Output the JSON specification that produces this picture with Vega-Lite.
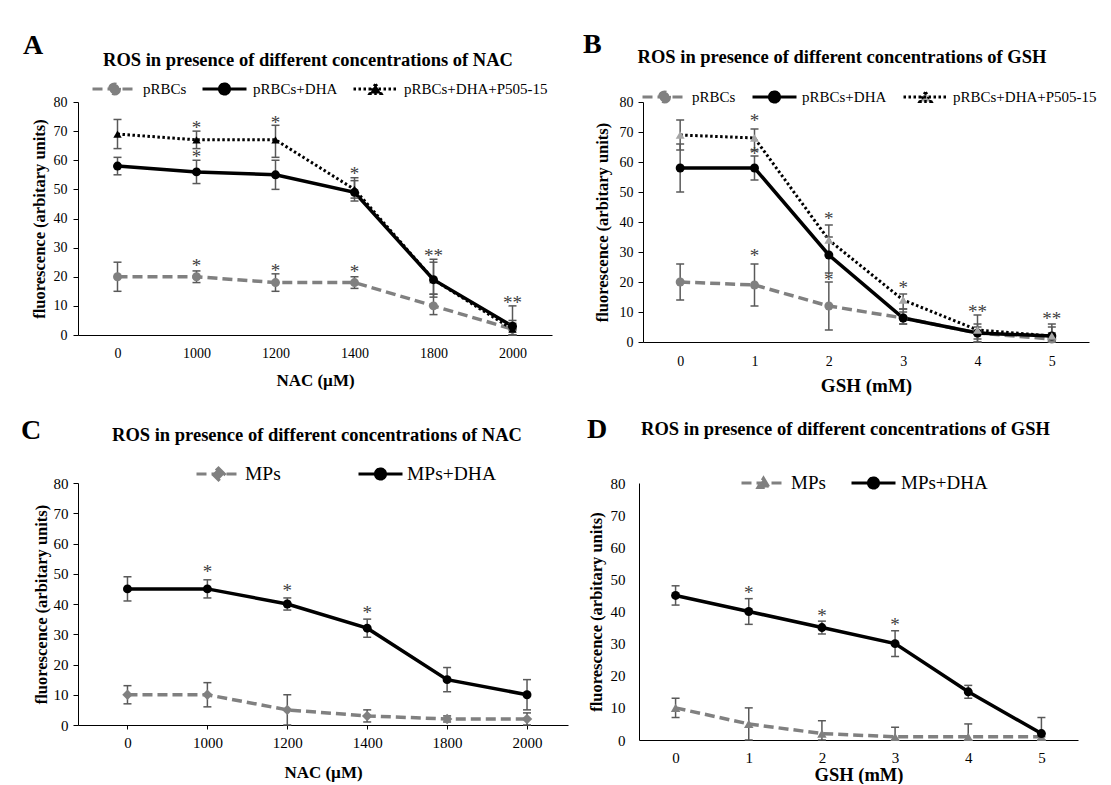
{
"$schema":"https://vega.github.io/schema/vega-lite/v6.json",
"background":"white",
"padding":{"left":21,"top":30,"right":25,"bottom":0},
"config":{
 "font":"Liberation Serif",
 "view":{"stroke":null},
 "title":{"font":"Liberation Serif","fontSize":18.5,"fontWeight":"bold","color":"black","anchor":"middle"},
 "axis":{"labelFont":"Liberation Serif","labelFontSize":14,"labelColor":"black","labelOverlap":false,"titleFont":"Liberation Serif","titleFontSize":16.5,"titleFontWeight":"bold","titleColor":"black","domainColor":"black","domainWidth":1,"tickColor":"black","grid":false},
 "axisX":{"ticks":false,"tickSize":0,"labelAngle":0},
 "legend":{"labelFont":"Liberation Serif","labelColor":"black","padding":0},
 "text":{"font":"Liberation Serif"}
},
"datasets":{
 "A":[
  {"x":0,"series":"pRBCs","v":20,"lo":15,"hi":25},{"x":1000,"series":"pRBCs","v":20,"lo":18,"hi":22},{"x":1200,"series":"pRBCs","v":18,"lo":15,"hi":21},{"x":1400,"series":"pRBCs","v":18,"lo":16,"hi":20},{"x":1800,"series":"pRBCs","v":10,"lo":7,"hi":14},{"x":2000,"series":"pRBCs","v":2,"lo":0,"hi":4},
  {"x":0,"series":"pRBCs+DHA+P505-15","v":69,"lo":64,"hi":74},{"x":1000,"series":"pRBCs+DHA+P505-15","v":67,"lo":64,"hi":70},{"x":1200,"series":"pRBCs+DHA+P505-15","v":67,"lo":61,"hi":72},{"x":1400,"series":"pRBCs+DHA+P505-15","v":50,"lo":47,"hi":54},{"x":1800,"series":"pRBCs+DHA+P505-15","v":19,"lo":14,"hi":26},{"x":2000,"series":"pRBCs+DHA+P505-15","v":2,"lo":0,"hi":5},
  {"x":0,"series":"pRBCs+DHA","v":58,"lo":55,"hi":61},{"x":1000,"series":"pRBCs+DHA","v":56,"lo":52,"hi":60},{"x":1200,"series":"pRBCs+DHA","v":55,"lo":50,"hi":60},{"x":1400,"series":"pRBCs+DHA","v":49,"lo":46,"hi":53},{"x":1800,"series":"pRBCs+DHA","v":19,"lo":13,"hi":25},{"x":2000,"series":"pRBCs+DHA","v":3,"lo":0,"hi":10}
 ],
 "sA":[
  {"x":1000,"ys":72.5,"t":"*"},{"x":1000,"ys":62.5,"t":"*"},{"x":1200,"ys":74,"t":"*"},{"x":1400,"ys":56.5,"t":"*"},{"x":1800,"ys":28.5,"t":"**"},{"x":2000,"ys":12.5,"t":"**"},{"x":1000,"ys":25,"t":"*"},{"x":1200,"ys":23.5,"t":"*"},{"x":1400,"ys":23,"t":"*"}
 ],
 "B":[
  {"x":0,"series":"pRBCs","v":20,"lo":14,"hi":26},{"x":1,"series":"pRBCs","v":19,"lo":12,"hi":26},{"x":2,"series":"pRBCs","v":12,"lo":4,"hi":20},{"x":3,"series":"pRBCs","v":8,"lo":6,"hi":10},{"x":4,"series":"pRBCs","v":3,"lo":1,"hi":5},{"x":5,"series":"pRBCs","v":1,"lo":0,"hi":3},
  {"x":0,"series":"pRBCs+DHA+P505-15","v":69,"lo":64,"hi":74},{"x":1,"series":"pRBCs+DHA+P505-15","v":68,"lo":64,"hi":71},{"x":2,"series":"pRBCs+DHA+P505-15","v":34,"lo":29,"hi":39},{"x":3,"series":"pRBCs+DHA+P505-15","v":14,"lo":11,"hi":16},{"x":4,"series":"pRBCs+DHA+P505-15","v":4,"lo":0,"hi":9},{"x":5,"series":"pRBCs+DHA+P505-15","v":2,"lo":0,"hi":6},
  {"x":0,"series":"pRBCs+DHA","v":58,"lo":50,"hi":66},{"x":1,"series":"pRBCs+DHA","v":58,"lo":54,"hi":62},{"x":2,"series":"pRBCs+DHA","v":29,"lo":23,"hi":35},{"x":3,"series":"pRBCs+DHA","v":8,"lo":6,"hi":11},{"x":4,"series":"pRBCs+DHA","v":3,"lo":0,"hi":6},{"x":5,"series":"pRBCs+DHA","v":2,"lo":0,"hi":5}
 ],
 "sB":[
  {"x":1,"ys":75,"t":"*"},{"x":1,"ys":64,"t":"*"},{"x":1,"ys":30,"t":"*"},{"x":2,"ys":42.5,"t":"*"},{"x":2,"ys":22,"t":"*"},{"x":3,"ys":19.5,"t":"*"},{"x":4,"ys":11.5,"t":"**"},{"x":5,"ys":9,"t":"**"}
 ],
 "C":[
  {"x":0,"series":"MPs","v":10,"lo":7,"hi":13},{"x":1000,"series":"MPs","v":10,"lo":6,"hi":14},{"x":1200,"series":"MPs","v":5,"lo":0,"hi":10},{"x":1400,"series":"MPs","v":3,"lo":1,"hi":5},{"x":1800,"series":"MPs","v":2,"lo":1,"hi":3},{"x":2000,"series":"MPs","v":2,"lo":0,"hi":4},
  {"x":0,"series":"MPs+DHA","v":45,"lo":41,"hi":49},{"x":1000,"series":"MPs+DHA","v":45,"lo":42,"hi":48},{"x":1200,"series":"MPs+DHA","v":40,"lo":38,"hi":42},{"x":1400,"series":"MPs+DHA","v":32,"lo":29,"hi":35},{"x":1800,"series":"MPs+DHA","v":15,"lo":11,"hi":19},{"x":2000,"series":"MPs+DHA","v":10,"lo":5,"hi":15}
 ],
 "sC":[
  {"x":1000,"ys":52,"t":"*"},{"x":1200,"ys":45.5,"t":"*"},{"x":1400,"ys":38.5,"t":"*"}
 ],
 "D":[
  {"x":0,"series":"MPs","v":10,"lo":7,"hi":13},{"x":1,"series":"MPs","v":5,"lo":0,"hi":10},{"x":2,"series":"MPs","v":2,"lo":0,"hi":6},{"x":3,"series":"MPs","v":1,"lo":0,"hi":4},{"x":4,"series":"MPs","v":1,"lo":0,"hi":5},{"x":5,"series":"MPs","v":1,"lo":0,"hi":1},
  {"x":0,"series":"MPs+DHA","v":45,"lo":42,"hi":48},{"x":1,"series":"MPs+DHA","v":40,"lo":36,"hi":44},{"x":2,"series":"MPs+DHA","v":35,"lo":33,"hi":37},{"x":3,"series":"MPs+DHA","v":30,"lo":26,"hi":34},{"x":4,"series":"MPs+DHA","v":15,"lo":13,"hi":17},{"x":5,"series":"MPs+DHA","v":2,"lo":0,"hi":7}
 ],
 "sD":[
  {"x":1,"ys":47,"t":"*"},{"x":2,"ys":40,"t":"*"},{"x":3,"ys":37,"t":"*"}
 ]
},
"spacing":20,
"resolve":{"scale":{"fill":"independent","stroke":"independent","shape":"independent","strokeDash":"independent"},"legend":{"fill":"independent","stroke":"independent","shape":"independent","strokeDash":"independent"}},
"vconcat":[
 {"spacing":31,
  "resolve":{"scale":{"fill":"independent","stroke":"independent","shape":"independent","strokeDash":"independent"},"legend":{"fill":"independent","stroke":"independent","shape":"independent","strokeDash":"independent"}},
  "hconcat":[
  {"title":{"text":"A","anchor":"start","frame":"bounds","fontSize":28,"offset":-9,"dx":-8},
   "vconcat":[{
    "width":474,"height":233,
    "title":{"text":"ROS in presence of different concentrations of NAC","offset":26,"dx":-7},
    "data":{"name":"A"},
    "encoding":{"x":{"field":"x","type":"ordinal","scale":{"type":"point","padding":0.5,"domain":[0,1000,1200,1400,1800,2000]},"axis":{"title":"NAC (µM)","labelPadding":11,"titlePadding":12,"titleFontSize":17}}},
    "layer":[
     {"transform":[{"filter":"datum.series == 'pRBCs'"}],"mark":{"type":"line","color":"#808080","strokeWidth":3.5,"strokeDash":[10,5]},"encoding":{"y":{"field":"v","type":"quantitative","title":"fluorescence (arbitary units)","scale":{"domain":[0,80]},"axis":{"values":[0,10,20,30,40,50,60,70,80],"labelOverlap":false,"tickSize":5,"labelPadding":6,"titlePadding":6}}}},
     {"transform":[{"filter":"datum.series == 'pRBCs+DHA+P505-15'"}],"mark":{"type":"line","color":"#000000","strokeWidth":3,"strokeDash":[2.5,2.5]},"encoding":{"y":{"field":"v","type":"quantitative","title":"fluorescence (arbitary units)","scale":{"domain":[0,80]},"axis":{"values":[0,10,20,30,40,50,60,70,80],"labelOverlap":false,"tickSize":5,"labelPadding":6,"titlePadding":6}}}},
     {"transform":[{"filter":"datum.series == 'pRBCs+DHA'"}],"mark":{"type":"line","color":"#000000","strokeWidth":3.5},"encoding":{"y":{"field":"v","type":"quantitative","title":"fluorescence (arbitary units)","scale":{"domain":[0,80]},"axis":{"values":[0,10,20,30,40,50,60,70,80],"labelOverlap":false,"tickSize":5,"labelPadding":6,"titlePadding":6}}}},
     {"mark":{"type":"rule","color":"#595959","strokeWidth":1.5},"encoding":{"y":{"field":"lo","type":"quantitative","title":"fluorescence (arbitary units)","scale":{"domain":[0,80]},"axis":{"values":[0,10,20,30,40,50,60,70,80],"labelOverlap":false,"tickSize":5,"labelPadding":6,"titlePadding":6}},"y2":{"field":"hi"}}},
     {"mark":{"type":"tick","color":"#595959","thickness":1.5,"size":8,"opacity":1},"encoding":{"y":{"field":"lo","type":"quantitative","title":"fluorescence (arbitary units)","scale":{"domain":[0,80]},"axis":{"values":[0,10,20,30,40,50,60,70,80],"labelOverlap":false,"tickSize":5,"labelPadding":6,"titlePadding":6}}}},
     {"mark":{"type":"tick","color":"#595959","thickness":1.5,"size":8,"opacity":1},"encoding":{"y":{"field":"hi","type":"quantitative","title":"fluorescence (arbitary units)","scale":{"domain":[0,80]},"axis":{"values":[0,10,20,30,40,50,60,70,80],"labelOverlap":false,"tickSize":5,"labelPadding":6,"titlePadding":6}}}},
     {"transform":[{"filter":"datum.series == 'pRBCs'"}],"mark":{"type":"point","shape":"circle","filled":true,"size":80,"opacity":1,"color":"#808080"},"encoding":{"y":{"field":"v","type":"quantitative","title":"fluorescence (arbitary units)","scale":{"domain":[0,80]},"axis":{"values":[0,10,20,30,40,50,60,70,80],"labelOverlap":false,"tickSize":5,"labelPadding":6,"titlePadding":6}}}},
     {"transform":[{"filter":"datum.series == 'pRBCs+DHA+P505-15'"}],"mark":{"type":"point","shape":"triangle-up","filled":true,"size":70,"opacity":1,"color":"#000000"},"encoding":{"y":{"field":"v","type":"quantitative","title":"fluorescence (arbitary units)","scale":{"domain":[0,80]},"axis":{"values":[0,10,20,30,40,50,60,70,80],"labelOverlap":false,"tickSize":5,"labelPadding":6,"titlePadding":6}}}},
     {"transform":[{"filter":"datum.series == 'pRBCs+DHA'"}],"mark":{"type":"point","shape":"circle","filled":true,"size":80,"opacity":1,"color":"#000000"},"encoding":{"y":{"field":"v","type":"quantitative","title":"fluorescence (arbitary units)","scale":{"domain":[0,80]},"axis":{"values":[0,10,20,30,40,50,60,70,80],"labelOverlap":false,"tickSize":5,"labelPadding":6,"titlePadding":6}}}},
     {"data":{"name":"sA"},"mark":{"type":"text","fontSize":19,"color":"#404040","baseline":"middle","dy":4},"encoding":{"y":{"field":"ys","type":"quantitative","title":"fluorescence (arbitary units)","scale":{"domain":[0,80]},"axis":{"values":[0,10,20,30,40,50,60,70,80],"labelOverlap":false,"tickSize":5,"labelPadding":6,"titlePadding":6}},"text":{"field":"t"}}},
     {"data":{"values":[]},"mark":{"type":"point","filled":true,"opacity":1,"size":1936,"strokeWidth":3},"encoding":{
       "fill":{"field":"series","type":"nominal","scale":{"domain":["pRBCs","pRBCs+DHA","pRBCs+DHA+P505-15"],"range":["#808080","#000000","#000000"]},
         "legend":{"title":null,"orient":"none","legendX":13,"legendY":-22,"direction":"horizontal","symbolSize":1936,"symbolStrokeWidth":3,"clipHeight":18,"labelFont":"Liberation Serif","labelFontSize":15,"labelOffset":5,"columnPadding":14,"labelLimit":300}},
       "stroke":{"field":"series","type":"nominal","scale":{"domain":["pRBCs","pRBCs+DHA","pRBCs+DHA+P505-15"],"range":["#808080","#000000","#000000"]},
         "legend":{"title":null,"orient":"none","legendX":13,"legendY":-22,"direction":"horizontal","symbolSize":1936,"symbolStrokeWidth":3,"clipHeight":18,"labelFont":"Liberation Serif","labelFontSize":15,"labelOffset":5,"columnPadding":14,"labelLimit":300}},
       "strokeDash":{"field":"series","type":"nominal","scale":{"domain":["pRBCs","pRBCs+DHA","pRBCs+DHA+P505-15"],"range":[[10,5],[1,0],[2.5,2.5]]},
         "legend":{"title":null,"orient":"none","legendX":13,"legendY":-22,"direction":"horizontal","symbolSize":1936,"symbolStrokeWidth":3,"clipHeight":18,"labelFont":"Liberation Serif","labelFontSize":15,"labelOffset":5,"columnPadding":14,"labelLimit":300}},
       "shape":{"field":"series","type":"nominal","scale":{"domain":["pRBCs","pRBCs+DHA","pRBCs+DHA+P505-15"],"range":["M-1,0H1M0.23,0A0.23,0.23,0,1,1,-0.23,0A0.23,0.23,0,1,1,0.23,0Z","M-1,0H1M0.23,0A0.23,0.23,0,1,1,-0.23,0A0.23,0.23,0,1,1,0.23,0Z","M-1,0H1M0,-0.22L0.25,0.2L-0.25,0.2Z"]},
         "legend":{"title":null,"orient":"none","legendX":13,"legendY":-22,"direction":"horizontal","symbolSize":1936,"symbolStrokeWidth":3,"clipHeight":18,"labelFont":"Liberation Serif","labelFontSize":15,"labelOffset":5,"columnPadding":14,"labelLimit":300}}}}
    ]
   }]
  },
  {"title":{"text":"B","anchor":"start","frame":"bounds","fontSize":28,"offset":-11,"dx":-11},
   "vconcat":[{
    "width":446,"height":240,
    "title":{"text":"ROS in presence of different concentrations of GSH","offset":29,"dx":-24},
    "data":{"name":"B"},
    "encoding":{"x":{"field":"x","type":"ordinal","scale":{"type":"point","padding":0.5,"domain":[0,1,2,3,4,5]},"axis":{"title":"GSH (mM)","labelPadding":12,"titlePadding":8,"titleFontSize":19}}},
    "layer":[
     {"transform":[{"filter":"datum.series == 'pRBCs'"}],"mark":{"type":"line","color":"#808080","strokeWidth":3.5,"strokeDash":[10,5]},"encoding":{"y":{"field":"v","type":"quantitative","title":"fluorescence (arbitary units)","scale":{"domain":[0,80]},"axis":{"values":[0,10,20,30,40,50,60,70,80],"labelOverlap":false,"tickSize":5,"labelPadding":5,"titlePadding":9}}}},
     {"transform":[{"filter":"datum.series == 'pRBCs+DHA+P505-15'"}],"mark":{"type":"line","color":"#000000","strokeWidth":3,"strokeDash":[2.5,2.5]},"encoding":{"y":{"field":"v","type":"quantitative","title":"fluorescence (arbitary units)","scale":{"domain":[0,80]},"axis":{"values":[0,10,20,30,40,50,60,70,80],"labelOverlap":false,"tickSize":5,"labelPadding":5,"titlePadding":9}}}},
     {"transform":[{"filter":"datum.series == 'pRBCs+DHA'"}],"mark":{"type":"line","color":"#000000","strokeWidth":3.5},"encoding":{"y":{"field":"v","type":"quantitative","title":"fluorescence (arbitary units)","scale":{"domain":[0,80]},"axis":{"values":[0,10,20,30,40,50,60,70,80],"labelOverlap":false,"tickSize":5,"labelPadding":5,"titlePadding":9}}}},
     {"mark":{"type":"rule","color":"#595959","strokeWidth":1.5},"encoding":{"y":{"field":"lo","type":"quantitative","title":"fluorescence (arbitary units)","scale":{"domain":[0,80]},"axis":{"values":[0,10,20,30,40,50,60,70,80],"labelOverlap":false,"tickSize":5,"labelPadding":5,"titlePadding":9}},"y2":{"field":"hi"}}},
     {"mark":{"type":"tick","color":"#595959","thickness":1.5,"size":8,"opacity":1},"encoding":{"y":{"field":"lo","type":"quantitative","title":"fluorescence (arbitary units)","scale":{"domain":[0,80]},"axis":{"values":[0,10,20,30,40,50,60,70,80],"labelOverlap":false,"tickSize":5,"labelPadding":5,"titlePadding":9}}}},
     {"mark":{"type":"tick","color":"#595959","thickness":1.5,"size":8,"opacity":1},"encoding":{"y":{"field":"hi","type":"quantitative","title":"fluorescence (arbitary units)","scale":{"domain":[0,80]},"axis":{"values":[0,10,20,30,40,50,60,70,80],"labelOverlap":false,"tickSize":5,"labelPadding":5,"titlePadding":9}}}},
     {"transform":[{"filter":"datum.series == 'pRBCs'"}],"mark":{"type":"point","shape":"circle","filled":true,"size":80,"opacity":1,"color":"#808080"},"encoding":{"y":{"field":"v","type":"quantitative","title":"fluorescence (arbitary units)","scale":{"domain":[0,80]},"axis":{"values":[0,10,20,30,40,50,60,70,80],"labelOverlap":false,"tickSize":5,"labelPadding":5,"titlePadding":9}}}},
     {"transform":[{"filter":"datum.series == 'pRBCs+DHA'"}],"mark":{"type":"point","shape":"circle","filled":true,"size":80,"opacity":1,"color":"#000000"},"encoding":{"y":{"field":"v","type":"quantitative","title":"fluorescence (arbitary units)","scale":{"domain":[0,80]},"axis":{"values":[0,10,20,30,40,50,60,70,80],"labelOverlap":false,"tickSize":5,"labelPadding":5,"titlePadding":9}}}},
     {"transform":[{"filter":"datum.series == 'pRBCs+DHA+P505-15'"}],"mark":{"type":"point","shape":"triangle-up","filled":true,"size":80,"opacity":1,"color":"#a6a6a6"},"encoding":{"y":{"field":"v","type":"quantitative","title":"fluorescence (arbitary units)","scale":{"domain":[0,80]},"axis":{"values":[0,10,20,30,40,50,60,70,80],"labelOverlap":false,"tickSize":5,"labelPadding":5,"titlePadding":9}}}},
     {"data":{"name":"sB"},"mark":{"type":"text","fontSize":19,"color":"#404040","baseline":"middle","dy":4},"encoding":{"y":{"field":"ys","type":"quantitative","title":"fluorescence (arbitary units)","scale":{"domain":[0,80]},"axis":{"values":[0,10,20,30,40,50,60,70,80],"labelOverlap":false,"tickSize":5,"labelPadding":5,"titlePadding":9}},"text":{"field":"t"}}},
     {"data":{"values":[]},"mark":{"type":"point","filled":true,"opacity":1,"size":1936,"strokeWidth":3},"encoding":{
       "fill":{"field":"series","type":"nominal","scale":{"domain":["pRBCs","pRBCs+DHA","pRBCs+DHA+P505-15"],"range":["#808080","#000000","#a6a6a6"]},
         "legend":{"title":null,"orient":"none","legendX":-2,"legendY":-14,"direction":"horizontal","symbolSize":1936,"symbolStrokeWidth":3,"clipHeight":18,"labelFont":"Liberation Serif","labelFontSize":15,"labelOffset":4,"columnPadding":15,"labelLimit":300}},
       "stroke":{"field":"series","type":"nominal","scale":{"domain":["pRBCs","pRBCs+DHA","pRBCs+DHA+P505-15"],"range":["#808080","#000000","#000000"]},
         "legend":{"title":null,"orient":"none","legendX":-2,"legendY":-14,"direction":"horizontal","symbolSize":1936,"symbolStrokeWidth":3,"clipHeight":18,"labelFont":"Liberation Serif","labelFontSize":15,"labelOffset":4,"columnPadding":15,"labelLimit":300}},
       "strokeDash":{"field":"series","type":"nominal","scale":{"domain":["pRBCs","pRBCs+DHA","pRBCs+DHA+P505-15"],"range":[[10,5],[1,0],[2.5,2.5]]},
         "legend":{"title":null,"orient":"none","legendX":-2,"legendY":-14,"direction":"horizontal","symbolSize":1936,"symbolStrokeWidth":3,"clipHeight":18,"labelFont":"Liberation Serif","labelFontSize":15,"labelOffset":4,"columnPadding":15,"labelLimit":300}},
       "shape":{"field":"series","type":"nominal","scale":{"domain":["pRBCs","pRBCs+DHA","pRBCs+DHA+P505-15"],"range":["M-1,0H1M0.23,0A0.23,0.23,0,1,1,-0.23,0A0.23,0.23,0,1,1,0.23,0Z","M-1,0H1M0.23,0A0.23,0.23,0,1,1,-0.23,0A0.23,0.23,0,1,1,0.23,0Z","M-1,0H1M0,-0.22L0.25,0.2L-0.25,0.2Z"]},
         "legend":{"title":null,"orient":"none","legendX":-2,"legendY":-14,"direction":"horizontal","symbolSize":1936,"symbolStrokeWidth":3,"clipHeight":18,"labelFont":"Liberation Serif","labelFontSize":15,"labelOffset":4,"columnPadding":15,"labelLimit":300}}}}
    ]
   }]
  }
 ]},
 {"spacing":19,
  "resolve":{"scale":{"fill":"independent","stroke":"independent","shape":"independent","strokeDash":"independent"},"legend":{"fill":"independent","stroke":"independent","shape":"independent","strokeDash":"independent"}},
  "hconcat":[
  {"title":{"text":"C","anchor":"start","frame":"bounds","fontSize":28,"offset":-19,"dx":-12},
   "vconcat":[{
    "width":490,"height":242,
    "title":{"text":"ROS in presence of different concentrations of NAC","offset":32,"dx":-6},
    "data":{"name":"C"},
    "encoding":{"x":{"field":"x","type":"ordinal","scale":{"type":"point","padding":0.566,"align":0.547,"domain":[0,1000,1200,1400,1800,2000]},"axis":{"title":"NAC (µM)","ticks":true,"tickSize":4,"labelPadding":6,"titlePadding":14,"titleFontSize":17,"labelFontSize":15}}},
    "layer":[
     {"transform":[{"filter":"datum.series == 'MPs'"}],"mark":{"type":"line","color":"#808080","strokeWidth":3.5,"strokeDash":[10,5]},"encoding":{"y":{"field":"v","type":"quantitative","title":"fluorescence (arbitary units)","scale":{"domain":[0,80]},"axis":{"values":[0,10,20,30,40,50,60,70,80],"labelOverlap":false,"tickSize":5,"labelPadding":5,"titlePadding":4,"labelFontSize":15}}}},
     {"transform":[{"filter":"datum.series == 'MPs+DHA'"}],"mark":{"type":"line","color":"#000000","strokeWidth":3.5},"encoding":{"y":{"field":"v","type":"quantitative","title":"fluorescence (arbitary units)","scale":{"domain":[0,80]},"axis":{"values":[0,10,20,30,40,50,60,70,80],"labelOverlap":false,"tickSize":5,"labelPadding":5,"titlePadding":4,"labelFontSize":15}}}},
     {"mark":{"type":"rule","color":"#595959","strokeWidth":1.5},"encoding":{"y":{"field":"lo","type":"quantitative","title":"fluorescence (arbitary units)","scale":{"domain":[0,80]},"axis":{"values":[0,10,20,30,40,50,60,70,80],"labelOverlap":false,"tickSize":5,"labelPadding":5,"titlePadding":4,"labelFontSize":15}},"y2":{"field":"hi"}}},
     {"mark":{"type":"tick","color":"#595959","thickness":1.5,"size":8,"opacity":1},"encoding":{"y":{"field":"lo","type":"quantitative","title":"fluorescence (arbitary units)","scale":{"domain":[0,80]},"axis":{"values":[0,10,20,30,40,50,60,70,80],"labelOverlap":false,"tickSize":5,"labelPadding":5,"titlePadding":4,"labelFontSize":15}}}},
     {"mark":{"type":"tick","color":"#595959","thickness":1.5,"size":8,"opacity":1},"encoding":{"y":{"field":"hi","type":"quantitative","title":"fluorescence (arbitary units)","scale":{"domain":[0,80]},"axis":{"values":[0,10,20,30,40,50,60,70,80],"labelOverlap":false,"tickSize":5,"labelPadding":5,"titlePadding":4,"labelFontSize":15}}}},
     {"transform":[{"filter":"datum.series == 'MPs'"}],"mark":{"type":"point","shape":"diamond","filled":true,"size":110,"opacity":1,"color":"#808080"},"encoding":{"y":{"field":"v","type":"quantitative","title":"fluorescence (arbitary units)","scale":{"domain":[0,80]},"axis":{"values":[0,10,20,30,40,50,60,70,80],"labelOverlap":false,"tickSize":5,"labelPadding":5,"titlePadding":4,"labelFontSize":15}}}},
     {"transform":[{"filter":"datum.series == 'MPs+DHA'"}],"mark":{"type":"point","shape":"circle","filled":true,"size":80,"opacity":1,"color":"#000000"},"encoding":{"y":{"field":"v","type":"quantitative","title":"fluorescence (arbitary units)","scale":{"domain":[0,80]},"axis":{"values":[0,10,20,30,40,50,60,70,80],"labelOverlap":false,"tickSize":5,"labelPadding":5,"titlePadding":4,"labelFontSize":15}}}},
     {"data":{"name":"sC"},"mark":{"type":"text","fontSize":19,"color":"#404040","baseline":"middle","dy":4},"encoding":{"y":{"field":"ys","type":"quantitative","title":"fluorescence (arbitary units)","scale":{"domain":[0,80]},"axis":{"values":[0,10,20,30,40,50,60,70,80],"labelOverlap":false,"tickSize":5,"labelPadding":5,"titlePadding":4,"labelFontSize":15}},"text":{"field":"t"}}},
     {"data":{"values":[]},"mark":{"type":"point","filled":true,"opacity":1,"size":1936,"strokeWidth":3},"encoding":{
       "fill":{"field":"series","type":"nominal","scale":{"domain":["MPs","MPs+DHA"],"range":["#808080","#000000"]},
         "legend":{"title":null,"orient":"none","legendX":117,"legendY":-20,"direction":"horizontal","symbolSize":1936,"symbolStrokeWidth":3,"clipHeight":22,"labelFont":"Liberation Serif","labelFontSize":19.5,"labelOffset":3,"columnPadding":76}},
       "stroke":{"field":"series","type":"nominal","scale":{"domain":["MPs","MPs+DHA"],"range":["#808080","#000000"]},
         "legend":{"title":null,"orient":"none","legendX":117,"legendY":-20,"direction":"horizontal","symbolSize":1936,"symbolStrokeWidth":3,"clipHeight":22,"labelFont":"Liberation Serif","labelFontSize":19.5,"labelOffset":3,"columnPadding":76}},
       "strokeDash":{"field":"series","type":"nominal","scale":{"domain":["MPs","MPs+DHA"],"range":[[10,5],[1,0]]},
         "legend":{"title":null,"orient":"none","legendX":117,"legendY":-20,"direction":"horizontal","symbolSize":1936,"symbolStrokeWidth":3,"clipHeight":22,"labelFont":"Liberation Serif","labelFontSize":19.5,"labelOffset":3,"columnPadding":76}},
       "shape":{"field":"series","type":"nominal","scale":{"domain":["MPs","MPs+DHA"],"range":["M-1,0H1M0,-0.27L0.27,0L0,0.27L-0.27,0Z","M-1,0H1M0.23,0A0.23,0.23,0,1,1,-0.23,0A0.23,0.23,0,1,1,0.23,0Z"]},
         "legend":{"title":null,"orient":"none","legendX":117,"legendY":-20,"direction":"horizontal","symbolSize":1936,"symbolStrokeWidth":3,"clipHeight":22,"labelFont":"Liberation Serif","labelFontSize":19.5,"labelOffset":3,"columnPadding":76}}}}
    ]
   }]
  },
  {"title":{"text":"D","anchor":"start","frame":"bounds","fontSize":28,"offset":-24,"dx":-1},
   "vconcat":[{
    "width":439,"height":257,
    "title":{"text":"ROS in presence of different concentrations of GSH","offset":38,"dx":-13},
    "data":{"name":"D"},
    "encoding":{"x":{"field":"x","type":"ordinal","scale":{"type":"point","padding":0.5,"domain":[0,1,2,3,4,5]},"axis":{"title":"GSH (mM)","labelPadding":10,"titlePadding":0,"titleFontSize":18.5,"labelFontSize":15}}},
    "layer":[
     {"transform":[{"filter":"datum.series == 'MPs'"}],"mark":{"type":"line","color":"#808080","strokeWidth":3.5,"strokeDash":[10,5]},"encoding":{"y":{"field":"v","type":"quantitative","title":"fluorescence (arbitary units)","scale":{"domain":[0,80]},"axis":{"values":[0,10,20,30,40,50,60,70,80],"labelOverlap":false,"ticks":false,"tickSize":0,"labelPadding":14,"titlePadding":6,"labelFontSize":15}}}},
     {"transform":[{"filter":"datum.series == 'MPs+DHA'"}],"mark":{"type":"line","color":"#000000","strokeWidth":3.5},"encoding":{"y":{"field":"v","type":"quantitative","title":"fluorescence (arbitary units)","scale":{"domain":[0,80]},"axis":{"values":[0,10,20,30,40,50,60,70,80],"labelOverlap":false,"ticks":false,"tickSize":0,"labelPadding":14,"titlePadding":6,"labelFontSize":15}}}},
     {"mark":{"type":"rule","color":"#595959","strokeWidth":1.5},"encoding":{"y":{"field":"lo","type":"quantitative","title":"fluorescence (arbitary units)","scale":{"domain":[0,80]},"axis":{"values":[0,10,20,30,40,50,60,70,80],"labelOverlap":false,"ticks":false,"tickSize":0,"labelPadding":14,"titlePadding":6,"labelFontSize":15}},"y2":{"field":"hi"}}},
     {"mark":{"type":"tick","color":"#595959","thickness":1.5,"size":8,"opacity":1},"encoding":{"y":{"field":"lo","type":"quantitative","title":"fluorescence (arbitary units)","scale":{"domain":[0,80]},"axis":{"values":[0,10,20,30,40,50,60,70,80],"labelOverlap":false,"ticks":false,"tickSize":0,"labelPadding":14,"titlePadding":6,"labelFontSize":15}}}},
     {"mark":{"type":"tick","color":"#595959","thickness":1.5,"size":8,"opacity":1},"encoding":{"y":{"field":"hi","type":"quantitative","title":"fluorescence (arbitary units)","scale":{"domain":[0,80]},"axis":{"values":[0,10,20,30,40,50,60,70,80],"labelOverlap":false,"ticks":false,"tickSize":0,"labelPadding":14,"titlePadding":6,"labelFontSize":15}}}},
     {"transform":[{"filter":"datum.series == 'MPs'"}],"mark":{"type":"point","shape":"triangle-up","filled":true,"size":90,"opacity":1,"color":"#808080"},"encoding":{"y":{"field":"v","type":"quantitative","title":"fluorescence (arbitary units)","scale":{"domain":[0,80]},"axis":{"values":[0,10,20,30,40,50,60,70,80],"labelOverlap":false,"ticks":false,"tickSize":0,"labelPadding":14,"titlePadding":6,"labelFontSize":15}}}},
     {"transform":[{"filter":"datum.series == 'MPs+DHA'"}],"mark":{"type":"point","shape":"circle","filled":true,"size":80,"opacity":1,"color":"#000000"},"encoding":{"y":{"field":"v","type":"quantitative","title":"fluorescence (arbitary units)","scale":{"domain":[0,80]},"axis":{"values":[0,10,20,30,40,50,60,70,80],"labelOverlap":false,"ticks":false,"tickSize":0,"labelPadding":14,"titlePadding":6,"labelFontSize":15}}}},
     {"data":{"name":"sD"},"mark":{"type":"text","fontSize":19,"color":"#404040","baseline":"middle","dy":4},"encoding":{"y":{"field":"ys","type":"quantitative","title":"fluorescence (arbitary units)","scale":{"domain":[0,80]},"axis":{"values":[0,10,20,30,40,50,60,70,80],"labelOverlap":false,"ticks":false,"tickSize":0,"labelPadding":14,"titlePadding":6,"labelFontSize":15}},"text":{"field":"t"}}},
     {"data":{"values":[]},"mark":{"type":"point","filled":true,"opacity":1,"size":1936,"strokeWidth":3},"encoding":{
       "fill":{"field":"series","type":"nominal","scale":{"domain":["MPs","MPs+DHA"],"range":["#808080","#000000"]},
         "legend":{"title":null,"orient":"none","legendX":101,"legendY":-11,"direction":"horizontal","symbolSize":1936,"symbolStrokeWidth":3,"clipHeight":22,"labelFont":"Liberation Serif","labelFontSize":19,"labelOffset":4,"columnPadding":24}},
       "stroke":{"field":"series","type":"nominal","scale":{"domain":["MPs","MPs+DHA"],"range":["#808080","#000000"]},
         "legend":{"title":null,"orient":"none","legendX":101,"legendY":-11,"direction":"horizontal","symbolSize":1936,"symbolStrokeWidth":3,"clipHeight":22,"labelFont":"Liberation Serif","labelFontSize":19,"labelOffset":4,"columnPadding":24}},
       "strokeDash":{"field":"series","type":"nominal","scale":{"domain":["MPs","MPs+DHA"],"range":[[10,5],[1,0]]},
         "legend":{"title":null,"orient":"none","legendX":101,"legendY":-11,"direction":"horizontal","symbolSize":1936,"symbolStrokeWidth":3,"clipHeight":22,"labelFont":"Liberation Serif","labelFontSize":19,"labelOffset":4,"columnPadding":24}},
       "shape":{"field":"series","type":"nominal","scale":{"domain":["MPs","MPs+DHA"],"range":["M-1,0H1M0,-0.22L0.25,0.2L-0.25,0.2Z","M-1,0H1M0.23,0A0.23,0.23,0,1,1,-0.23,0A0.23,0.23,0,1,1,0.23,0Z"]},
         "legend":{"title":null,"orient":"none","legendX":101,"legendY":-11,"direction":"horizontal","symbolSize":1936,"symbolStrokeWidth":3,"clipHeight":22,"labelFont":"Liberation Serif","labelFontSize":19,"labelOffset":4,"columnPadding":24}}}}
    ]
   }]
  }
 ]}
]
}
